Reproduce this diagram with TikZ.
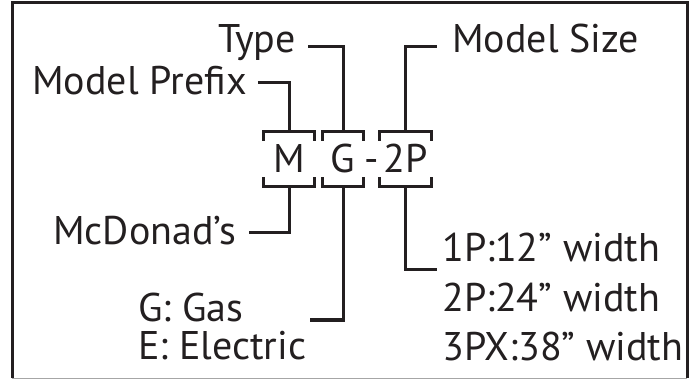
\documentclass[tikz,border=0pt]{standalone}
\usepackage{fontspec}
\setmainfont{PT Sans}
\usetikzlibrary{positioning}
\definecolor{ink}{HTML}{231F20}
\begin{document}
\begin{tikzpicture}[x=1pt,y=-1pt,
  every node/.style={inner sep=0pt,text=ink,font=\fontsize{40}{40}\selectfont},
  lbl/.style={anchor=base west,text depth=0pt},
  code/.style={minimum width=50pt,minimum height=54pt,text height=27pt,text depth=0pt},
  link/.style={draw=ink,line width=3pt}]
  \useasboundingbox (0,0) rectangle (696,379);
  \draw[link] (12,378) -- (12,3) -- (687,3) -- (687,378);
  \draw[gray!70,line width=1pt] (12,378) -- (687,378);
  \node[code] (m) at (289,159) {M};
  \node[code,minimum width=40pt] (g) at (343,159) {G};
  \node[code,minimum width=51pt] (p) at (405.5,159) {2P};
  \node[text height=27pt,text depth=0pt] (dash) at (371.5,159) {-};
  \foreach \b in {m,g,p} {
    \draw[link] ([yshift=-9pt]\b.north west) -- (\b.north west) -- (\b.north east) -- ([yshift=-9pt]\b.north east);
    \draw[link] ([yshift=9pt]\b.south west) -- (\b.south west) -- (\b.south east) -- ([yshift=9pt]\b.south east);
  }
  \node[lbl] (typ) at (218,53) {Type};
  \node[lbl] (pfx) at (32,95) {Model Prefix};
  \node[lbl] (size) at (452,53) {Model Size};
  \node[lbl] (mcd) at (53,245) {McDonad’s};
  \node[lbl] (gas) at (138,322) {G: Gas};
  \node[lbl] (elec) at ([yshift=-37pt]gas.base west) {E: Electric};
  \node[lbl] (one) at (442,262) {1P:12” width};
  \node[lbl] (two) at ([yshift=-50pt]one.base west) {2P:24” width};
  \node[lbl] (three) at ([yshift=-48pt]two.base west) {3PX:38” width};
  \draw[link] ([xshift=11pt,yshift=12pt]pfx.base east) -| (m.north);
  \draw[link] ([xshift=12pt,yshift=6pt]typ.base east) -| (g.north);
  \draw[link] (p.north) |- ([xshift=-15pt,yshift=6pt]size.base west);
  \draw[link] ([xshift=13pt,yshift=12pt]mcd.base east) -| (m.south);
  \draw[link] (g.south) |- ([xshift=67pt,yshift=2pt]gas.base east);
  \draw[link] (p.south) |- ([xshift=-5pt,yshift=-8pt]one.base west);
\end{tikzpicture}
\end{document}
